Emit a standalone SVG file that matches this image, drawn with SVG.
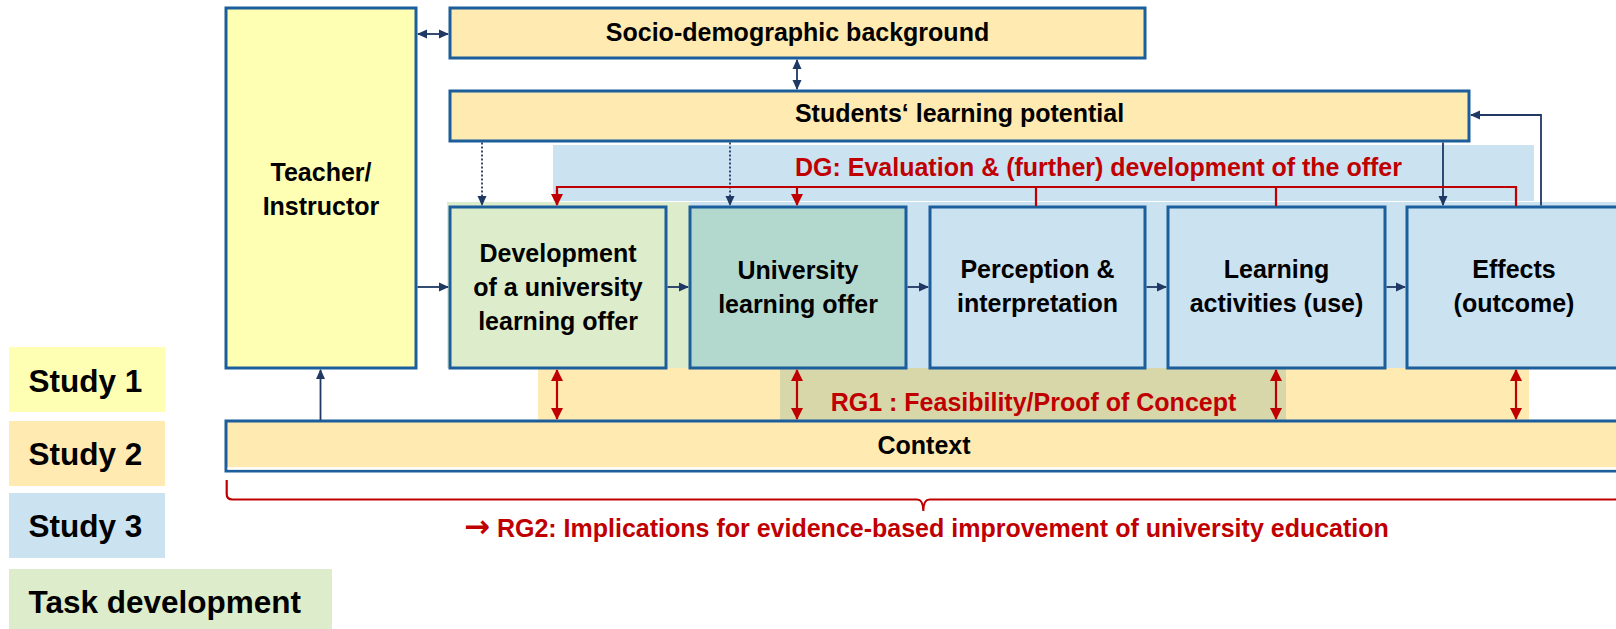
<svg xmlns="http://www.w3.org/2000/svg" width="1616" height="629" viewBox="0 0 1616 629">
<style>
  .box { stroke: #1B5E9B; stroke-width: 3; }
  .t { font-family: "Liberation Sans", Arial, sans-serif; font-weight: bold; font-size: 25px; fill: #000; text-anchor: middle; }
  .red { font-family: "Liberation Sans", Arial, sans-serif; font-weight: bold; font-size: 25px; fill: #C00000; }
  .leg { font-family: "Liberation Sans", Arial, sans-serif; font-weight: bold; font-size: 31.5px; fill: #000; }
  .nav { fill: none; stroke: #1F3864; stroke-width: 1.8; }
  .dot { fill: none; stroke: #1F3864; stroke-width: 1.8; stroke-dasharray: 2 2; }
  .rl { fill: none; stroke: #C00000; stroke-width: 2.2; }
</style>
<defs>
  <marker id="an" markerUnits="userSpaceOnUse" markerWidth="10" markerHeight="10" refX="9" refY="5" orient="auto-start-reverse">
    <path d="M0,0.5 L10,5 L0,9.5 z" fill="#1F3864"/>
  </marker>
  <marker id="ar" markerUnits="userSpaceOnUse" markerWidth="12" markerHeight="12" refX="11" refY="6" orient="auto-start-reverse">
    <path d="M0,0 L12,6 L0,12 z" fill="#C00000"/>
  </marker>
</defs>

<!-- background bands -->
<g id="bands">
  <rect x="553" y="145" width="981" height="56" fill="#CBE2F0"/>
  <rect x="447" y="202" width="243" height="166" fill="#DDEDCB"/>
  <rect x="690" y="202" width="926" height="166" fill="#CBE2F0"/>
  <rect x="538" y="368" width="991" height="53" fill="#FFEAB2"/>
  <rect x="780" y="368" width="506" height="53" fill="#D8D7A9"/>
</g>

<!-- legend -->
<g id="legend-study1"><rect x="9" y="347" width="156" height="65" fill="#FFFFB3"/><text class="leg" x="28.5" y="392">Study 1</text></g>
<g id="legend-study2"><rect x="9" y="421" width="156" height="65" fill="#FFEAB2"/><text class="leg" x="28.5" y="465">Study 2</text></g>
<g id="legend-study3"><rect x="9" y="493" width="156" height="65" fill="#CBE2F0"/><text class="leg" x="28.5" y="537">Study 3</text></g>
<g id="legend-task"><rect x="9" y="569" width="323" height="60" fill="#DDEDCB"/><text class="leg" x="28.5" y="613">Task development</text></g>

<!-- nodes -->
<g id="teacher"><rect class="box" x="226" y="8" width="190" height="360" fill="#FFFFB3"/>
  <text class="t" x="321" y="181">Teacher/</text><text class="t" x="321" y="215">Instructor</text></g>
<g id="socio"><rect class="box" x="450" y="8" width="695" height="50" fill="#FFEAB2"/>
  <text class="t" x="797.5" y="41">Socio-demographic background</text></g>
<g id="students"><rect class="box" x="450" y="91" width="1019" height="50" fill="#FFEAB2"/>
  <text class="t" x="959.5" y="122">Students‘ learning potential</text></g>
<g id="development"><rect class="box" x="450" y="207" width="216" height="161" fill="#DDEDCB"/>
  <text class="t" x="558" y="262">Development</text><text class="t" x="558" y="296">of a university</text><text class="t" x="558" y="330">learning offer</text></g>
<g id="offer"><rect class="box" x="690" y="207" width="216" height="161" fill="#B3D9CE"/>
  <text class="t" x="798" y="279">University</text><text class="t" x="798" y="313">learning offer</text></g>
<g id="perception"><rect class="box" x="930" y="207" width="215" height="161" fill="#CBE2F0"/>
  <text class="t" x="1037.5" y="278">Perception &amp;</text><text class="t" x="1037.5" y="312">interpretation</text></g>
<g id="activities"><rect class="box" x="1168" y="207" width="217" height="161" fill="#CBE2F0"/>
  <text class="t" x="1276.5" y="278">Learning</text><text class="t" x="1276.5" y="312">activities (use)</text></g>
<g id="effects"><rect class="box" x="1407" y="207" width="215" height="161" fill="#CBE2F0"/>
  <text class="t" x="1514" y="278">Effects</text><text class="t" x="1514" y="312">(outcome)</text></g>
<g id="context"><rect class="box" x="226" y="421" width="1396" height="50" fill="#FFEAB2"/>
  <line x1="227.5" y1="468.5" x2="1616" y2="468.5" stroke="#FFFFFF" stroke-width="2.5"/>
  <text class="t" x="924" y="454">Context</text></g>

<!-- labels -->
<g id="labels">
  <text class="red" x="1098.5" y="176" text-anchor="middle">DG: Evaluation &amp; (further) development of the offer</text>
  <text class="red" x="1033.5" y="411" text-anchor="middle">RG1 : Feasibility/Proof of Concept</text>
  <text class="red" x="464" y="537"><tspan font-family="'DejaVu Sans', sans-serif" font-weight="bold" font-size="31">→</tspan> RG2: Implications for evidence-based improvement of university education</text>
</g>

<!-- connectors -->
<g id="connectors">
  <path class="nav" d="M418,34 H448" marker-start="url(#an)" marker-end="url(#an)"/>
  <path class="nav" d="M797,60 V89" marker-start="url(#an)" marker-end="url(#an)"/>
  <path class="nav" d="M320.5,420 V370" marker-end="url(#an)"/>
  <path class="nav" d="M417.5,287 H448" marker-end="url(#an)"/>
  <path class="nav" d="M667.5,287 H688" marker-end="url(#an)"/>
  <path class="nav" d="M907.5,287 H928" marker-end="url(#an)"/>
  <path class="nav" d="M1146.5,287 H1166" marker-end="url(#an)"/>
  <path class="nav" d="M1386.5,287 H1405" marker-end="url(#an)"/>
  <path class="nav" d="M1443,142.5 V205" marker-end="url(#an)"/>
  <path class="nav" d="M1541,205.5 V115 H1471" marker-end="url(#an)"/>
  <path class="dot" d="M482,142.5 V205" marker-end="url(#an)"/>
  <path class="dot" d="M730,142.5 V205" marker-end="url(#an)"/>
  <path class="rl" d="M557,205 V187 H1516 V206"/>
  <path class="rl" d="M557,190 V205" marker-end="url(#ar)"/>
  <path class="rl" d="M797,187 V205" marker-end="url(#ar)"/>
  <path class="rl" d="M1036,187 V206"/>
  <path class="rl" d="M1276,187 V206"/>
  <path class="rl" d="M557,370 V419" marker-start="url(#ar)" marker-end="url(#ar)"/>
  <path class="rl" d="M797,370 V419" marker-start="url(#ar)" marker-end="url(#ar)"/>
  <path class="rl" d="M1276,370 V419" marker-start="url(#ar)" marker-end="url(#ar)"/>
  <path class="rl" d="M1516,370 V419" marker-start="url(#ar)" marker-end="url(#ar)"/>
  <path class="rl" d="M226.7,480 V494 Q226.7,499.5 232.5,499.5 H917 Q923.3,499.5 923.3,511 Q923.3,499.5 929.6,499.5 H1614 Q1620,499.5 1620,494 V480"/>
</g>
</svg>
